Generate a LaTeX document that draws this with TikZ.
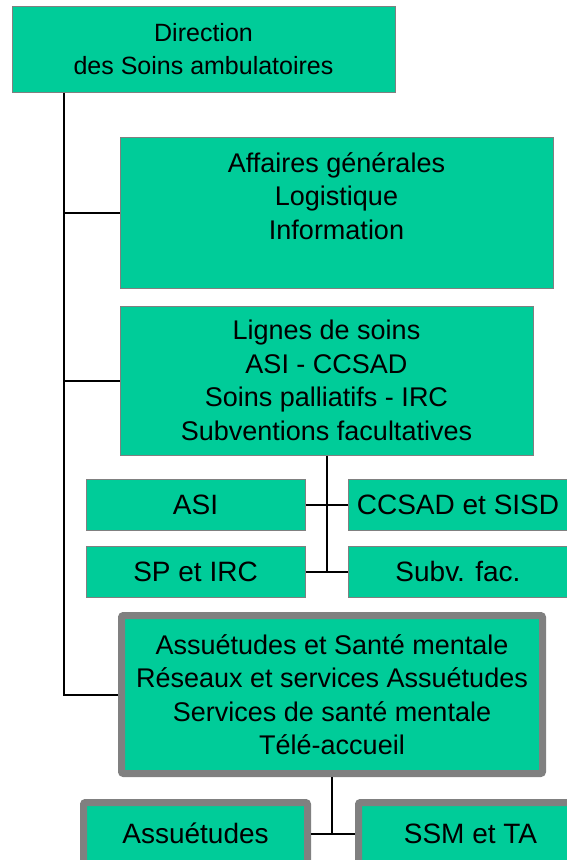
\documentclass[tikz,border=0pt]{standalone}
\usepackage{fontspec}
\setmainfont{Liberation Sans}
\definecolor{boxgreen}{HTML}{00CC99}
\definecolor{boxgray}{HTML}{808080}

\begin{document}
\begin{tikzpicture}[x=1pt, y=-1pt, font=\fontsize{27}{33.5}\selectfont]

        % Setup the styles for the boxes
        \tikzset{unit box/.style={rectangle,
                                  draw=boxgray,
                                  line width=1pt,
                                  fill=boxgreen,
                                  align=center,
                                  inner sep=0pt},
                 heavy box/.style={unit box, line width=7pt, rounded corners=2pt},
                 small text/.style={font=\fontsize{28}{33.5}\selectfont},
                 link/.style={line width=2pt, draw=black}}

        \useasboundingbox (0,0) rectangle (566,860);

        % Draw the boxes
        \node[unit box, minimum width=383pt, minimum height=86pt, font=\fontsize{25}{33.5}\selectfont]
                            at (203.5, 49)     (dir)   {Direction\\des Soins ambulatoires};
        \node[unit box, minimum width=433pt, minimum height=151pt]
                            at (336.5, 212.5)  (aff)   {Affaires générales\\Logistique\\Information\\\mbox{}};
        \node[unit box, minimum width=413pt, minimum height=149pt]
                            at (326.5, 380.5)  (lig)   {Lignes de soins\\ASI - CCSAD\\Soins palliatifs - IRC\\Subventions facultatives};
        \node[unit box, small text, minimum width=219pt, minimum height=51pt]
                            at (195.5, 504.5)  (asi)   {ASI};
        \node[unit box, small text, minimum width=220pt, minimum height=51pt]
                            at (458, 504.5)    (ccsad) {CCSAD et SISD};
        \node[unit box, small text, minimum width=219pt, minimum height=51pt]
                            at (195.5, 571.5)  (sp)    {SP et IRC};
        \node[unit box, small text, minimum width=220pt, minimum height=51pt]
                            at (458, 571.5)    (subv)  {Subv. fac.};
        \node[heavy box, minimum width=421pt, minimum height=158pt]
                            at (332, 694.5)    (ass)   {Assuétudes et Santé mentale\\Réseaux et services Assuétudes\\Services de santé mentale\\Télé-accueil};
        \node[heavy box, small text, minimum width=224pt, minimum height=62pt]
                            at (195.5, 833.5)  (assu)  {Assuétudes};
        \node[heavy box, small text, minimum width=224pt, minimum height=62pt]
                            at (470.5, 833.5)  (ssm)   {SSM et TA};

        % Connect the boxes
        \coordinate (spine) at (64, 0);
        \draw[link] (spine |- dir.south) -- (spine |- ass.west) -- (ass.west);
        \draw[link] (spine |- aff.west) -- (aff.west);
        \draw[link] (spine |- lig.west) -- (lig.west);

        \draw[link] (lig.south) -- (lig.south |- sp.east);
        \draw[link] (asi.east) -- (ccsad.west);
        \draw[link] (sp.east) -- (subv.west);

        \draw[link] (ass.south) -- (ass.south |- assu.east);
        \draw[link] (assu.east) -- (ssm.west);
    \end{tikzpicture}
\end{document}
